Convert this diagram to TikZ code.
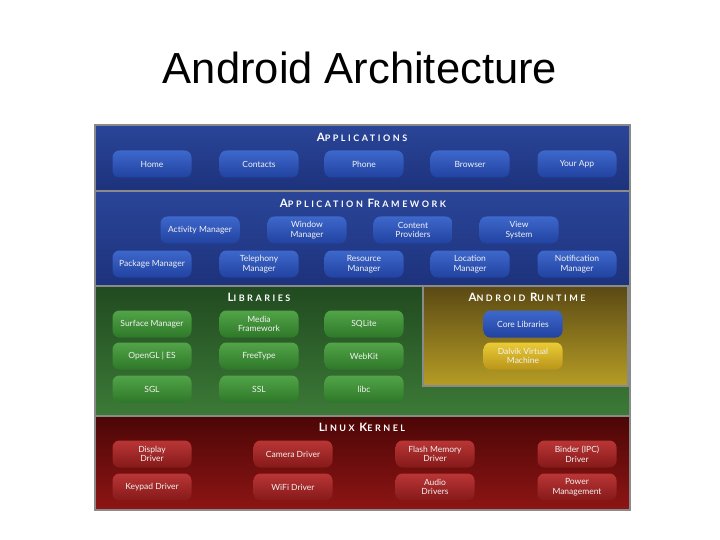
\documentclass[tikz,border=0pt]{standalone}
\usepackage{fontspec}
\setmainfont{Liberation Sans}
\newfontfamily\btnfont{Lato}
\newfontfamily\headfont[LetterSpace=28]{Lato}
\definecolor{frame}{HTML}{8A8A8A}
\definecolor{blueT}{HTML}{2A4598}
\definecolor{blueB}{HTML}{1D327C}
\definecolor{greenT}{HTML}{214A20}
\definecolor{greenB}{HTML}{3C7A37}
\definecolor{olivT}{HTML}{5A4914}
\definecolor{olivB}{HTML}{B69D25}
\definecolor{redT}{HTML}{4C0606}
\definecolor{redB}{HTML}{8E1515}
\definecolor{bbtnT}{HTML}{3E68CC}
\definecolor{bbtnB}{HTML}{2142A0}
\definecolor{gbtnT}{HTML}{52A448}
\definecolor{gbtnB}{HTML}{2E7829}
\definecolor{rbtnT}{HTML}{BA3636}
\definecolor{rbtnB}{HTML}{861919}
\definecolor{ybtnT}{HTML}{EBCB36}
\definecolor{ybtnB}{HTML}{B9951A}
\definecolor{btntext}{HTML}{F2F2F2}
\newcommand\hd[2]{{\fontsize{11.5}{11.5}\selectfont#1}#2}
\tikzset{
  band/.style={draw=frame, line width=1.6pt},
  btn/.style={rounded corners=7pt, minimum width=79pt, minimum height=27pt, inner sep=1pt,
    text=btntext, align=center, font=\btnfont\fontsize{8.5}{9.5}\selectfont},
  bbtn/.style={btn, top color=bbtnT, bottom color=bbtnB},
  gbtn/.style={btn, top color=gbtnT, bottom color=gbtnB},
  rbtn/.style={btn, top color=rbtnT, bottom color=rbtnB},
  ybtn/.style={btn, top color=ybtnT, bottom color=ybtnB},
  head/.style={text=white, font=\headfont\bfseries\fontsize{9}{10}\selectfont},
  ttl/.style={text=black, font=\fontsize{43.5}{46}\selectfont},
}
\begin{document}
\begin{tikzpicture}[x=1pt, y=-1pt]
  \useasboundingbox[fill=white] (0,0) rectangle (720,540);
  \node[ttl] (title) at (360,68) {Android Architecture};
  % layers
  \draw[band, top color=blueT, bottom color=blueB] (95,125) rectangle (630,191);
  \draw[band, top color=blueT, bottom color=blueB] (95,191) rectangle (630,286);
  \draw[band, top color=greenT, bottom color=greenB] (95,286) rectangle (630,416);
  \draw[band, top color=olivT, bottom color=olivB] (423,286) rectangle (628,386);
  \draw[band, top color=redT, bottom color=redB] (95,416) rectangle (630,510);
  \node[head] (happ) at (362,137) {\hd{A}{PPLICATIONS}};
  \node[head] (hfw) at (363,203) {\hd{A}{PPLICATION} \hd{F}{RAMEWORK}};
  \node[head] (hlib) at (259,297) {\hd{L}{IBRARIES}};
  \node[head] (hrt) at (527,297) {\hd{A}{NDROID} \hd{R}{UNTIME}};
  \node[head] (hk) at (362,427) {\hd{L}{INUX} \hd{K}{ERNEL}};
  % applications
  \node[bbtn] (home) at (152,164) {Home};
  \node[bbtn] (contacts) at (259,164) {Contacts};
  \node[bbtn] (phone) at (364,164) {Phone};
  \node[bbtn] (browser) at (470,164) {Browser};
  \node[bbtn] (yourapp) at (577,164) {Your App};
  % framework
  \node[bbtn] (activity) at (200,230) {Activity Manager};
  \node[bbtn] (window) at (307,230) {Window\\Manager};
  \node[bbtn] (content) at (413,230) {Content\\Providers};
  \node[bbtn] (view) at (519,230) {View\\System};
  \node[bbtn] (package) at (152,264) {Package Manager};
  \node[bbtn] (telephony) at (259,264) {Telephony\\Manager};
  \node[bbtn] (resource) at (364,264) {Resource\\Manager};
  \node[bbtn] (location) at (470,264) {Location\\Manager};
  \node[bbtn] (notify) at (577,264) {Notification\\Manager};
  % libraries
  \node[gbtn] (surface) at (152,324) {Surface Manager};
  \node[gbtn] (media) at (259,324) {Media\\Framework};
  \node[gbtn] (sqlite) at (364,324) {SQLite};
  \node[gbtn] (opengl) at (152,356) {OpenGL | ES};
  \node[gbtn] (freetype) at (259,356) {FreeType};
  \node[gbtn] (webkit) at (364,356) {WebKit};
  \node[gbtn] (sgl) at (152,389) {SGL};
  \node[gbtn] (ssl) at (259,389) {SSL};
  \node[gbtn] (libc) at (364,389) {libc};
  % runtime
  \node[bbtn] (core) at (523,324) {Core Libraries};
  \node[ybtn] (dalvik) at (523,356) {Dalvik Virtual\\Machine};
  % kernel
  \node[rbtn] (display) at (152,454) {Display\\Driver};
  \node[rbtn] (camera) at (293,454) {Camera Driver};
  \node[rbtn] (flash) at (435,454) {Flash Memory\\Driver};
  \node[rbtn] (binder) at (577,454) {Binder (IPC)\\Driver};
  \node[rbtn] (keypad) at (152,487) {Keypad Driver};
  \node[rbtn] (wifi) at (293,487) {WiFi Driver};
  \node[rbtn] (audio) at (435,487) {Audio\\Drivers};
  \node[rbtn] (power) at (577,487) {Power\\Management};
\end{tikzpicture}
\end{document}
